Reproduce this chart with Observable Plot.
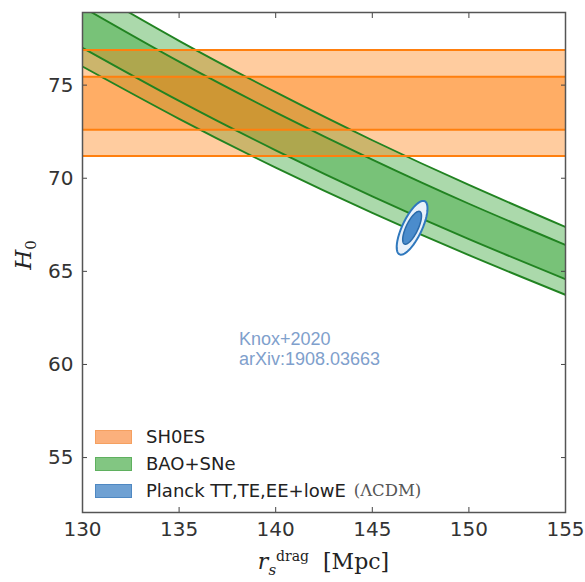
<!DOCTYPE html>
<html>
<head>
<meta charset="utf-8">
<script src="https://cdn.jsdelivr.net/npm/d3@7"></script>
<script src="https://cdn.jsdelivr.net/npm/@observablehq/plot@0.6"></script>
<style>
  html, body { margin: 0; padding: 0; background: #fff; }
  #wrap { position: relative; width: 585px; height: 582px; }
  #legend { position: absolute; left: 95px; top: 423px; font-family: "DejaVu Sans", sans-serif; font-size: 18px; color: #222; }
  #legend .row { display: flex; align-items: center; height: 27px; }
  #legend .sw { width: 37px; height: 14px; margin-right: 14px; box-sizing: border-box; }
  .note { position: absolute; left: 239px; font-family: "Liberation Sans", Arial, sans-serif; font-size: 18px; line-height: 18px; height: 18px; color: #7fa0cc; white-space: nowrap; }
  #xlab { position: absolute; left: 0; width: 585px; padding-left: 82px; padding-right: 20px; box-sizing: border-box; top: 543px; text-align: center; font-family: "DejaVu Serif", "Liberation Serif", serif; font-size: 22px; line-height: 26px; color: #222; }
  #ylab { position: absolute; left: 25px; top: 255px; transform: translate(-50%, -50%) rotate(-90deg); font-family: "DejaVu Serif", "Liberation Serif", serif; font-size: 23px; color: #222; white-space: nowrap; }
  .cm { font-family: "DejaVu Serif", serif; }
</style>
</head>
<body>
<div id="wrap">
  <div id="chart"></div>
  <div id="legend"></div>
  <div id="xlab"><i>r</i><sub style="font-size:15px"><i>s</i></sub><sup style="font-size:14px">drag</sup>&nbsp;&nbsp;[Mpc]</div>
  <div id="ylab"><i>H</i><sub style="font-size:15px">0</sub></div>
</div>
<script>
// ---- data ----
const xDomain = [130, 155];
const yDomain = [52.05, 78.9];
const xTicks = [130, 135, 140, 145, 150, 155];
const yTicks = [55, 60, 65, 70, 75];

// BAO+SNe band boundaries (H0 read at sound horizon values)
const rdGrid     = [130, 135, 140, 145, 150, 155];
const baoOuterHi = [80.35, 77.38, 74.62, 72.04, 69.64, 67.38];
const baoInnerHi = [79.19, 76.26, 73.54, 71.00, 68.63, 66.42];
const baoInnerLo = [77.00, 74.15, 71.50, 69.03, 66.73, 64.58];
const baoOuterLo = [76.00, 73.19, 70.57, 68.14, 65.87, 63.74];

// SH0ES bands
const shoesOuter = [71.20, 76.88];
const shoesInner = [72.61, 75.45];

// Planck (ΛCDM) constraint: center, sigmas, correlation, contour radii
const planckCenter = [147.06, 67.34];
const planckSigma = [0.32, 0.58];
const planckRho = 0.72;
const planckLevels = [2.49, 1.52];

const legendLabels = ["SH0ES", "BAO+SNe", "Planck TT,TE,EE+lowE"];
const legendColors = ["#fbb07c", "#82c682", "#6fa1d3"];
const legendBorders = ["#f5a060", "#5fb05f", "#4f88c2"];
const noteLines = ["Knox+2020", "arXiv:1908.03663"];

// ---- derived tables ----
const bao = rdGrid.map((rd, i) => ({rd, oLo: baoOuterLo[i], oHi: baoOuterHi[i], iLo: baoInnerLo[i], iHi: baoInnerHi[i]}));
const shoes = [{lo: shoesOuter[0], hi: shoesOuter[1]}, {lo: shoesInner[0], hi: shoesInner[1]}];
const shoesLines = [...shoesOuter, ...shoesInner];

function ellipse(r) {
  const pts = [];
  const n = 120;
  for (let k = 0; k < n; k++) {
    const t = 2 * Math.PI * k / n;
    const u = Math.cos(t), v = Math.sin(t);
    pts.push({
      x: planckCenter[0] + r * planckSigma[0] * u,
      y: planckCenter[1] + r * planckSigma[1] * (planckRho * u + Math.sqrt(1 - planckRho * planckRho) * v)
    });
  }
  return pts;
}
const outerEll = ellipse(planckLevels[0]);
const innerEll = ellipse(planckLevels[1]);

const C1 = "#ff7f0e", C2 = "#2ca02c";

const chart = Plot.plot({
  width: 585,
  height: 582,
  marginLeft: 82,
  marginRight: 20,
  marginTop: 12,
  marginBottom: 70,
  style: {fontFamily: "DejaVu Sans, sans-serif", fontSize: "20px", color: "#333", background: "#fff"},
  x: {domain: xDomain},
  y: {domain: yDomain},
  clip: true,
  marks: [
    // BAO+SNe bands
    Plot.areaY(bao, {x: "rd", y1: "oLo", y2: "oHi", fill: C2, fillOpacity: 0.4, curve: "natural", clip: true}),
    Plot.areaY(bao, {x: "rd", y1: "iLo", y2: "iHi", fill: C2, fillOpacity: 0.4, curve: "natural", clip: true}),
    // SH0ES bands
    Plot.rect(shoes, {y1: "lo", y2: "hi", fill: C1, fillOpacity: 0.4, clip: true}),
    // BAO lines
    Plot.line(bao, {x: "rd", y: "oHi", stroke: "#218321", strokeWidth: 1.9, curve: "natural", clip: true}),
    Plot.line(bao, {x: "rd", y: "iHi", stroke: "#218321", strokeWidth: 1.9, curve: "natural", clip: true}),
    Plot.line(bao, {x: "rd", y: "iLo", stroke: "#218321", strokeWidth: 1.9, curve: "natural", clip: true}),
    Plot.line(bao, {x: "rd", y: "oLo", stroke: "#218321", strokeWidth: 1.9, curve: "natural", clip: true}),
    // SH0ES lines
    Plot.ruleY(shoesLines, {stroke: C1, strokeWidth: 2}),
    // Planck ellipses
    Plot.line(outerEll, {x: "x", y: "y", curve: "linear-closed", fill: "#e9f1fa", stroke: "#2f78bd", strokeWidth: 2}),
    Plot.line(innerEll, {x: "x", y: "y", curve: "linear-closed", fill: "#4b8ccc", stroke: "#2a6aaa", strokeWidth: 1.5}),
    // axes with inward ticks
    Plot.axisX(xTicks, {anchor: "bottom", tickSize: -5, tickPadding: 14, stroke: "#444", fill: "#333"}),
    Plot.axisX(xTicks, {anchor: "top", tickSize: -5, tickFormat: () => "", stroke: "#444"}),
    Plot.axisY(yTicks, {anchor: "left", tickSize: -5, tickPadding: 14, stroke: "#444", fill: "#333"}),
    Plot.axisY(yTicks, {anchor: "right", tickSize: -5, tickFormat: () => "", stroke: "#444"}),
    Plot.frame({stroke: "#555", strokeWidth: 1.5})
  ]
});
document.getElementById("chart").appendChild(chart);

// legend
const leg = document.getElementById("legend");
legendLabels.forEach((lab, i) => {
  const row = document.createElement("div");
  row.className = "row";
  const sw = document.createElement("div");
  sw.className = "sw";
  sw.style.background = legendColors[i];
  sw.style.border = "1px solid " + legendBorders[i];
  const tx = document.createElement("span");
  tx.textContent = lab;
  row.appendChild(sw);
  row.appendChild(tx);
  if (i === 2) {
    const cdm = document.createElement("span");
    cdm.className = "cm";
    cdm.style.marginLeft = "8px";
    cdm.style.fontSize = "16.5px";
    cdm.style.color = "#555";
    cdm.textContent = "(ΛCDM)";
    row.appendChild(cdm);
  }
  leg.appendChild(row);
});

// annotation (two separate lines)
const wrap = document.getElementById("wrap");
noteLines.forEach((t, i) => {
  const d = document.createElement("div");
  d.className = "note";
  d.style.top = (330 + i * 20) + "px";
  d.textContent = t;
  wrap.appendChild(d);
});
</script>
</body>
</html>
